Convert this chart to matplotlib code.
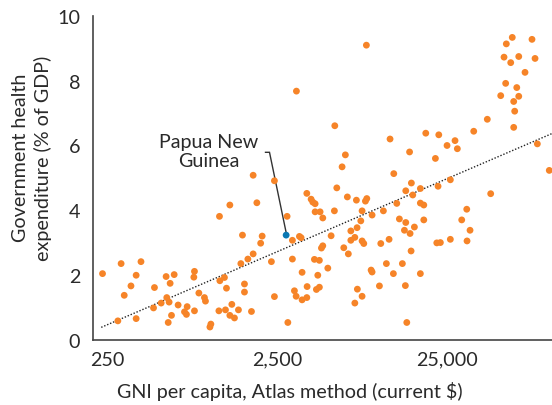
import numpy as np
import matplotlib
matplotlib.use("Agg")
import matplotlib.pyplot as plt

plt.rcParams['font.family'] = ['Lato', 'DejaVu Sans']

# GNI per capita, Atlas method (current $)
gni = [233, 300, 393, 368, 343, 313, 287, 368, 472, 466, 517, 553, 617, 584, 558, 576,
       651, 595, 569, 736, 710, 729, 813, 806, 863, 931, 944, 813, 1016, 1003, 1133, 1142,
       1315, 1148, 1222, 1256, 1239, 1351, 1315, 1400, 1478, 1764, 1561, 1527, 1604, 1604,
       1680, 1805, 1805, 1898, 1999, 2040, 2410, 2863, 2313, 2410, 2892, 3077, 3385, 3463,
       3077, 3510, 3163, 3237, 3510, 3743, 3758, 4263, 4440, 4345, 4150, 4440, 4565, 4650,
       4978, 5208, 3743, 3968, 4060, 4190, 4190, 4483, 4650, 5445, 5625, 6045, 6320, 6493,
       7343, 8300, 8458, 7933, 7795, 7410, 7188, 6808, 6808, 6185, 6580, 7933, 8118, 9088,
       10595, 12203, 12710, 14363, 15125, 13170, 14363, 14105, 15230, 11448, 10228, 11035,
       13715, 12138, 8968, 9088, 10040, 7440, 7933, 7188, 14285, 14563, 21485, 15500, 15795,
       17513, 22275, 26325, 17513, 18350, 16150, 18350, 15440, 17513, 21893, 22988, 26325,
       32900, 30725, 34400, 33025, 45550, 101000, 3250, 8410, 5475, 11600, 18850, 22495,
       25170, 28050, 28950, 36175, 43500, 52200, 55825, 64925, 66700, 62275, 63125, 62275,
       54600, 59800, 66700, 72625, 83225, 56325, 61075, 79850, 85875]
# Government health expenditure (% of GDP)
health = [2.04, 2.35, 2.41, 1.99, 1.66, 1.37, 0.58, 0.65, 1.61, 0.98, 1.13, 1.95, 2.01, 1.74,
          1.30, 1.16, 1.07, 0.75, 0.53, 1.02, 0.86, 0.78, 2.11, 1.93, 1.44, 1.30, 1.19, 0.89,
          0.48, 0.39, 0.89, 3.81, 4.16, 1.82, 1.92, 1.59, 0.92, 1.09, 0.75, 0.67, 0.92, 0.87,
          3.23, 2.35, 1.72, 1.47, 2.49, 2.65, 5.08, 4.23, 2.98, 3.20, 4.91, 3.81, 2.41, 1.33,
          0.53, 3.07, 3.19, 3.15, 2.49, 2.08, 1.51, 1.34, 1.23, 1.30, 1.64, 1.55, 1.62, 1.99,
          2.48, 2.45, 2.83, 2.90, 2.21, 3.21, 4.52, 4.34, 4.25, 4.20, 3.95, 3.95, 3.76, 3.98,
          4.69, 5.34, 5.71, 4.41, 4.31, 4.28, 4.36, 3.98, 3.67, 3.46, 3.16, 3.36, 3.07, 2.84,
          2.65, 3.05, 2.97, 3.85, 3.98, 5.13, 4.21, 4.60, 5.80, 3.73, 3.62, 3.38, 3.28, 3.10,
          2.97, 2.35, 2.35, 2.04, 2.15, 2.09, 1.66, 1.56, 1.34, 1.13, 1.67, 0.53, 5.60, 4.84,
          4.47, 4.67, 4.74, 4.94, 4.22, 4.16, 3.48, 3.70, 2.74, 2.04, 2.99, 3.00, 3.10, 4.03,
          3.70, 3.38, 3.05, 4.51, 5.23, 7.68, 9.10, 6.61, 6.20, 6.38, 6.33, 6.00, 6.15, 5.90,
          6.44, 6.81, 7.54, 7.92, 7.79, 7.52, 7.36, 7.06, 6.56, 8.73, 8.56, 8.75, 8.26, 8.69,
          9.14, 9.34, 9.28, 6.05]

png_label = "Papua New\nGuinea"
png_gni = 2826
png_health = 3.23

# trend line: health = slope * log10(gni) + intercept (as drawn in the reference)
trend_slope = 2.251
trend_intercept = -4.932
trend_range = [229, 120000]

x_ticks = [250, 2500, 25000]
x_ticklabels = ["250", "2,500", "25,000"]
y_ticks = [0, 2, 4, 6, 8, 10]

orange = "#f68428"
blue = "#0b78b3"
text_c = "#2a2a2a"
FS = 14.2

fig = plt.figure(figsize=(5.52, 4.06), dpi=100)
ax = fig.add_axes([0.168, 0.161, 0.832, 0.797])

ax.set_xscale('log')
ax.set_xlim(204, 104800)
ax.set_ylim(0, 10)

gx = np.array(gni, dtype=float)
hy = np.array(health, dtype=float)
xl = np.logspace(np.log10(trend_range[0]), np.log10(trend_range[1]), 200)
ax.plot(xl, trend_slope * np.log10(xl) + trend_intercept, color="#222222", lw=1.0,
        linestyle=(0, (1, 1.3)), zorder=2)

ax.scatter(gx, hy, s=24, color=orange, edgecolors='none', zorder=3)
ax.scatter([png_gni], [png_health], s=24, color=blue, edgecolors='none', zorder=4)

ax.text(208.5 / 552, 1 - 152 / 406, png_label, transform=fig.transFigure,
        ha='center', va='center', fontsize=FS, color=text_c, linespacing=1.15)

# leader line from label to the PNG point
inv = ax.transData.inverted()
p0 = inv.transform(fig.transFigure.transform((265.5 / 552, 1 - 153.3 / 406)))
p1 = inv.transform(fig.transFigure.transform((269.5 / 552, 1 - 153.3 / 406)))
ax.plot([p0[0], p1[0], png_gni], [p0[1], p1[1], png_health + 0.08],
        color="#333333", lw=1.0, zorder=2, solid_joinstyle='miter')

ax.set_xticks(x_ticks)
ax.set_xticklabels(x_ticklabels)
ax.minorticks_off()
ax.set_yticks(y_ticks)
ax.tick_params(axis='both', length=0, labelsize=FS, colors=text_c)
ax.tick_params(axis='x', pad=8)
ax.tick_params(axis='y', pad=9)
for s in ['top', 'right']:
    ax.spines[s].set_visible(False)
for s in ['left', 'bottom']:
    ax.spines[s].set_color("#444444")
    ax.spines[s].set_linewidth(1.2)

fig.text(290 / 552, 8 / 406, "GNI per capita, Atlas method (current $)",
         ha='center', va='baseline', fontsize=FS, color=text_c)
fig.text(32 / 552, 1 - 158 / 406, "Government health\nexpenditure (% of GDP)",
         ha='center', va='center', rotation=90, fontsize=FS, color=text_c,
         multialignment='center', linespacing=1.3)

fig.savefig("out.png", dpi=100)
